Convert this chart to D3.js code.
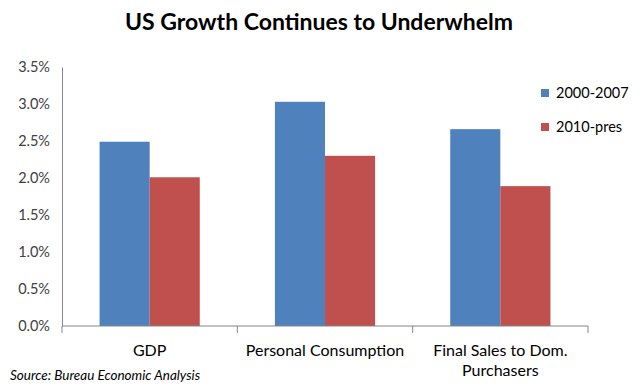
<!DOCTYPE html>
<html>
<head>
<meta charset="utf-8">
<script src="https://cdn.jsdelivr.net/npm/d3@7"></script>
<style>
  body { margin: 0; background: #fff; }
  svg text { font-family: Lato, "Open Sans", sans-serif; }
</style>
</head>
<body>
<div id="chart"></div>
<script>
// categories and series
var categories = ['GDP', 'Personal Consumption', 'Final Sales to Dom. Purchasers'];
var seriesNames = ['2000-2007', '2010-pres'];
var values2000 = [2.49, 3.03, 2.66];
var values2010 = [2.01, 2.30, 1.89];
var yTicks = [0, 0.5, 1.0, 1.5, 2.0, 2.5, 3.0, 3.5];

var colors = ['#4F81BD', '#C0504D'];

var width = 640, height = 386;
var margin = {top: 67, left: 62, right: 52, bottom: 60};

var svg = d3.select('#chart').append('svg')
    .attr('width', width)
    .attr('height', height);

// title
svg.append('text')
    .attr('x', 319)
    .attr('y', 30)
    .attr('text-anchor', 'middle')
    .attr('font-size', '23px')
    .attr('font-weight', 'bold')
    .attr('fill', '#000')
    .text('US Growth Continues to Underwhelm');

var x = d3.scaleBand()
    .domain(categories)
    .range([margin.left, width - margin.right]);

var inner = d3.scaleBand()
    .domain(seriesNames)
    .range([0, x.bandwidth()])
    .paddingOuter(0.75)
    .paddingInner(0);

var y = d3.scaleLinear()
    .domain([0, 3.5])
    .range([height - margin.bottom, margin.top]);

// y axis line + labels
var yAxis = d3.axisLeft(y)
    .tickValues(yTicks)
    .tickSize(0)
    .tickPadding(12)
    .tickFormat(function(d){ return d.toFixed(1) + '%'; });

var gy = svg.append('g')
    .attr('transform', 'translate(' + margin.left + ',0)')
    .call(yAxis);
gy.select('.domain').attr('stroke', '#868686');
gy.selectAll('text')
    .attr('font-size', '14.5px')
    .attr('fill', '#404040');

// bars
var data = categories.map(function(c, i){
    return {cat: c, vals: [values2000[i], values2010[i]]};
});

var groups = svg.selectAll('g.cat')
    .data(data)
    .enter().append('g')
        .attr('class', 'cat')
        .attr('transform', function(d){ return 'translate(' + x(d.cat) + ',0)'; });

groups.selectAll('rect')
    .data(function(d){ return d.vals.map(function(v, i){ return {name: seriesNames[i], v: v, i: i}; }); })
    .enter().append('rect')
        .attr('x', function(d){ return inner(d.name); })
        .attr('width', inner.bandwidth())
        .attr('y', function(d){ return y(d.v); })
        .attr('height', function(d){ return y(0) - y(d.v); })
        .attr('fill', function(d){ return colors[d.i]; });

// x axis
var gx = svg.append('g')
    .attr('transform', 'translate(0,' + y(0) + ')');

gx.append('line')
    .attr('x1', margin.left)
    .attr('x2', width - margin.right)
    .attr('stroke', '#868686');

var tickPos = categories.map(function(c){ return x(c); }).concat([x(categories[categories.length - 1]) + x.bandwidth()]);
gx.selectAll('line.tick')
    .data(tickPos)
    .enter().append('line')
        .attr('class', 'tick')
        .attr('x1', function(d){ return d; })
        .attr('x2', function(d){ return d; })
        .attr('y1', 0)
        .attr('y2', 7)
        .attr('stroke', '#868686');

// category labels (wrap last one)
var catLines = [['GDP'], ['Personal Consumption'], ['Final Sales to Dom.', 'Purchasers']];
gx.selectAll('text.cat')
    .data(categories)
    .enter().append('text')
        .attr('class', 'cat')
        .attr('text-anchor', 'middle')
        .attr('font-size', '16px')
        .attr('fill', '#000')
        .attr('x', function(d){ return x(d) + x.bandwidth() / 2; })
        .attr('y', 30)
        .each(function(d, i){
            var t = d3.select(this);
            catLines[i].forEach(function(line, j){
                t.append('tspan')
                    .attr('x', x(d) + x.bandwidth() / 2)
                    .attr('dy', j ? 20 : 0)
                    .text(line);
            });
        });

// legend
var legend = svg.append('g')
    .attr('transform', 'translate(541,93)');

seriesNames.forEach(function(name, i){
    legend.append('rect')
        .attr('x', 0)
        .attr('y', i * 34 - 4)
        .attr('width', 8)
        .attr('height', 8)
        .attr('fill', colors[i]);
    legend.append('text')
        .attr('x', 15)
        .attr('y', i * 34 + 5)
        .attr('font-size', '14.5px')
        .attr('fill', '#000')
        .text(name);
});

// source note
svg.append('text')
    .attr('x', 10)
    .attr('y', 380)
    .attr('font-size', '13.5px')
    .attr('font-style', 'italic')
    .attr('fill', '#000')
    .text('Source:  Bureau Economic Analysis');
</script>
</body>
</html>
